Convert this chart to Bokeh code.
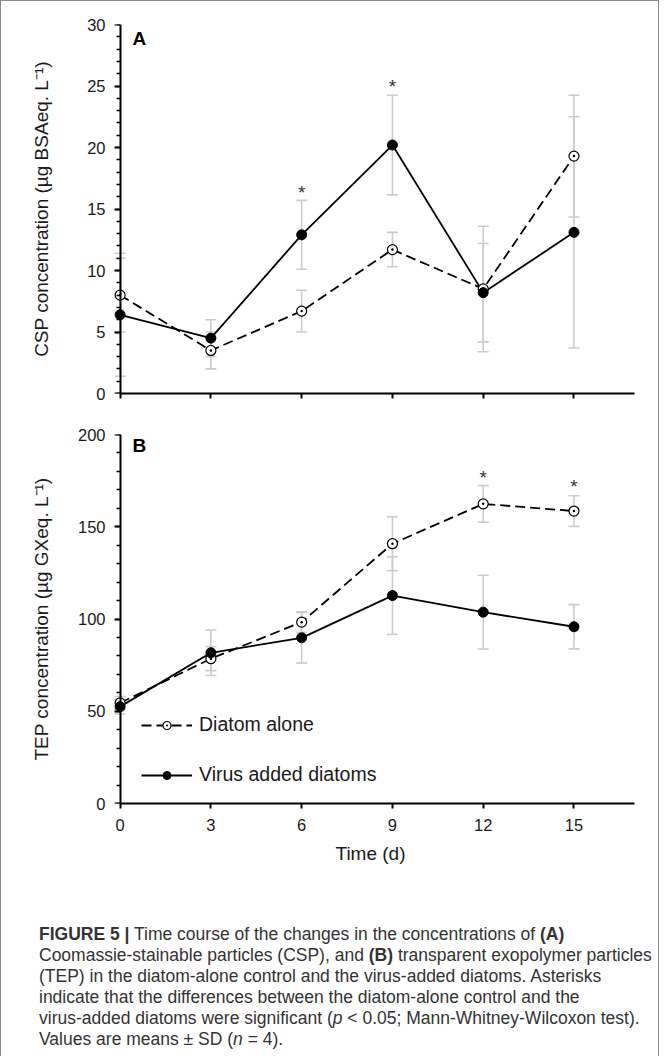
from bokeh.plotting import figure
from bokeh.models import (ColumnDataSource, Whisker, TeeHead, Label, Legend, LegendItem,
                          SingleIntervalTicker, FixedTicker, Range1d, Div, LinearAxis)
from bokeh.layouts import column
from bokeh.embed import file_html
from bokeh.resources import INLINE
from bokeh.core.properties import value

# ---------------- data ----------------
days = [0, 3, 6, 9, 12, 15]

csp_diatom = [8.0, 3.5, 6.7, 11.7, 8.5, 19.3]
csp_diatom_sd = [3.0, 1.5, 1.7, 1.4, 5.1, 4.95]
csp_virus = [6.4, 4.5, 12.9, 20.2, 8.2, 13.1]
csp_virus_sd = [5.0, 1.5, 2.8, 4.05, 4.0, 9.4]

tep_diatom = [54.5, 78.5, 98.3, 140.8, 162.4, 158.5]
tep_diatom_sd = [3.5, 6.5, 5.6, 14.6, 9.9, 8.3]
tep_virus = [52.5, 81.7, 89.8, 112.7, 103.7, 95.8]
tep_virus_sd = [4.0, 12.3, 13.7, 21.0, 20.0, 12.0]

csp_sig_days = [6, 9]
csp_sig_y = [16.7, 25.3]
tep_sig_days = [12, 15]
tep_sig_y = [179.0, 173.8]

series_names = ["Diatom alone", "Virus added diatoms"]
x_label = "Time (d)"
csp_label = "CSP concentration (\u00b5g BSAeq. L\u207b\u00b9)"
tep_label = "TEP concentration (\u00b5g GXeq. L\u207b\u00b9)"

FONT = "Liberation Sans"
ERR = "#cccccc"


def base_axis(ax):
    ax.axis_line_width = 2
    ax.axis_line_color = "black"
    ax.major_tick_line_width = 2
    ax.major_tick_line_color = "black"
    ax.minor_tick_line_width = 1.5
    ax.minor_tick_line_color = "black"
    ax.major_tick_in = 0
    ax.minor_tick_in = 0
    ax.major_label_text_font = FONT
    ax.major_label_text_font_size = "16.5px"
    ax.major_label_text_color = "#1a1a1a"
    ax.axis_label_text_font = FONT
    ax.axis_label_text_font_size = "19px"
    ax.axis_label_text_font_style = "normal"
    ax.axis_label_text_color = "#1a1a1a"


def make_panel(yr, interval, ylabel, ylabel_standoff, top, bottom, show_x, diatom, dsd, virus, vsd,
               sig_x, sig_y, letter, letter_y):
    p = figure(frame_width=528, frame_height=369,
               x_range=Range1d(-0.45, 17.0), y_range=Range1d(*yr),
               x_axis_type=None, y_axis_type=None,
               output_backend="svg", toolbar_location=None,
               min_border_left=105, min_border_right=14,
               min_border_top=top, min_border_bottom=bottom,
               background_fill_color="white", border_fill_color="white")
    p.outline_line_color = None
    p.grid.visible = False

    # tick labels + axis title (at the frame edge, no line/ticks)
    ylab = LinearAxis(ticker=SingleIntervalTicker(interval=interval, num_minor_ticks=0),
                      axis_label=ylabel)
    base_axis(ylab)
    ylab.axis_line_color = None
    ylab.major_tick_line_color = None
    ylab.minor_tick_line_color = None
    ylab.major_tick_out = 0
    ylab.minor_tick_out = 0
    ylab.major_label_standoff = 1
    ylab.axis_label_standoff = ylabel_standoff
    p.add_layout(ylab, "left")

    # axis line and ticks drawn through x = 0
    step = interval / 5
    nsteps = int(round((yr[1] - yr[0]) / step))
    minor_pos = [yr[0] + i * step for i in range(nsteps + 1)]
    major_pos = [v for i, v in enumerate(minor_pos) if i % 5 == 0]
    yline = LinearAxis(ticker=FixedTicker(ticks=[], minor_ticks=minor_pos),
                       fixed_location=0, bounds=yr)
    base_axis(yline)
    yline.minor_tick_out = 4
    yline.minor_tick_line_width = 1.5
    p.add_layout(yline, "left")
    ymaj = LinearAxis(ticker=FixedTicker(ticks=[], minor_ticks=major_pos),
                      fixed_location=0, bounds=yr)
    base_axis(ymaj)
    ymaj.axis_line_color = None
    ymaj.minor_tick_out = 6
    ymaj.minor_tick_line_width = 2
    p.add_layout(ymaj, "left")

    if show_x:
        xaxis = LinearAxis(ticker=FixedTicker(ticks=days, minor_ticks=[]), bounds=(0, 17),
                           axis_label=x_label)
        base_axis(xaxis)
        xaxis.major_tick_out = 5
        xaxis.major_label_standoff = 10
        xaxis.axis_label_standoff = 9
    else:
        xaxis = LinearAxis(ticker=FixedTicker(ticks=[], minor_ticks=days), bounds=(0, 17))
        base_axis(xaxis)
        xaxis.minor_tick_out = 5
        xaxis.minor_tick_line_width = 2
    p.add_layout(xaxis, "below")

    for m, s in ((diatom, dsd), (virus, vsd)):
        src = ColumnDataSource(dict(x=days,
                                    upper=[a + b for a, b in zip(m, s)],
                                    lower=[a - b for a, b in zip(m, s)]))
        w = Whisker(source=src, base="x", upper="upper", lower="lower",
                    line_color=ERR, line_width=1.6, level="underlay",
                    upper_head=TeeHead(size=11, line_color=ERR, line_width=1.6),
                    lower_head=TeeHead(size=11, line_color=ERR, line_width=1.6))
        p.add_layout(w)

    dl = p.line(days, diatom, line_color="black", line_width=1.8, line_dash="10 5")
    vl = p.line(days, virus, line_color="black", line_width=1.8)
    ds = p.scatter(days, diatom, marker="circle_dot", size=10, fill_color="white",
                   line_color="black", line_width=1.2)
    vs = p.scatter(days, virus, marker="circle", size=10, fill_color="black",
                   line_color="black")

    p.text(x=sig_x, y=sig_y, text=["*"] * len(sig_x), text_font=value(FONT),
           text_font_size="19px", text_align="center", text_baseline="middle",
           y_offset=4, text_color="#333333")

    p.add_layout(Label(x=0.41, y=letter_y, text=letter, text_font=FONT,
                       text_font_size="19px", text_font_style="bold",
                       text_baseline="middle", text_color="black"))
    return p, (dl, ds), (vl, vs)


p1, _, _ = make_panel((0, 30), 5, csp_label, 32, 23, 15, False,
                      csp_diatom, csp_diatom_sd, csp_virus, csp_virus_sd,
                      csp_sig_days, csp_sig_y, "A", 28.9)
p2, d_r, v_r = make_panel((0, 200), 50, tep_label, 23, 26, 89, True,
                          tep_diatom, tep_diatom_sd, tep_virus, tep_virus_sd,
                          tep_sig_days, tep_sig_y, "B", 193.9)

legend = Legend(items=[LegendItem(label=series_names[0], renderers=list(d_r)),
                       LegendItem(label=series_names[1], renderers=list(v_r))],
                location=(35, 17), orientation="vertical",
                glyph_width=51, glyph_height=20, label_height=20, label_standoff=7,
                spacing=27, padding=0, margin=0,
                label_text_font=FONT, label_text_font_size="19.5px", label_text_color="#1a1a1a",
                border_line_color=None, background_fill_alpha=0)
p2.add_layout(legend)

caption_lines = [
    "<b>FIGURE 5 |</b> Time course of the changes in the concentrations of <b>(A)</b>",
    "Coomassie-stainable particles (CSP), and <b>(B)</b> transparent exopolymer particles",
    "(TEP) in the diatom-alone control and the virus-added diatoms. Asterisks",
    "indicate that the differences between the diatom-alone control and the",
    "virus-added diatoms were significant (<i>p</i> &lt; 0.05; Mann-Whitney-Wilcoxon test).",
    "Values are means \u00b1 SD (<i>n</i> = 4).",
]
caption = Div(text=('<div style="padding:27px 0 0 33px; font-family:\'Liberation Sans\'; '
                    'font-size:17.5px; line-height:21px; color:#333; white-space:nowrap;">'
                    + "<br>".join(caption_lines) + "</div>"),
              width=647, height=154)

layout = column(p1, p2, caption,
                styles={"border-left": "1px solid #888", "border-top": "1px solid #888",
                        "border-right": "1px solid #888", "background": "white"})

open("out.html", "w").write(file_html(layout, INLINE))
